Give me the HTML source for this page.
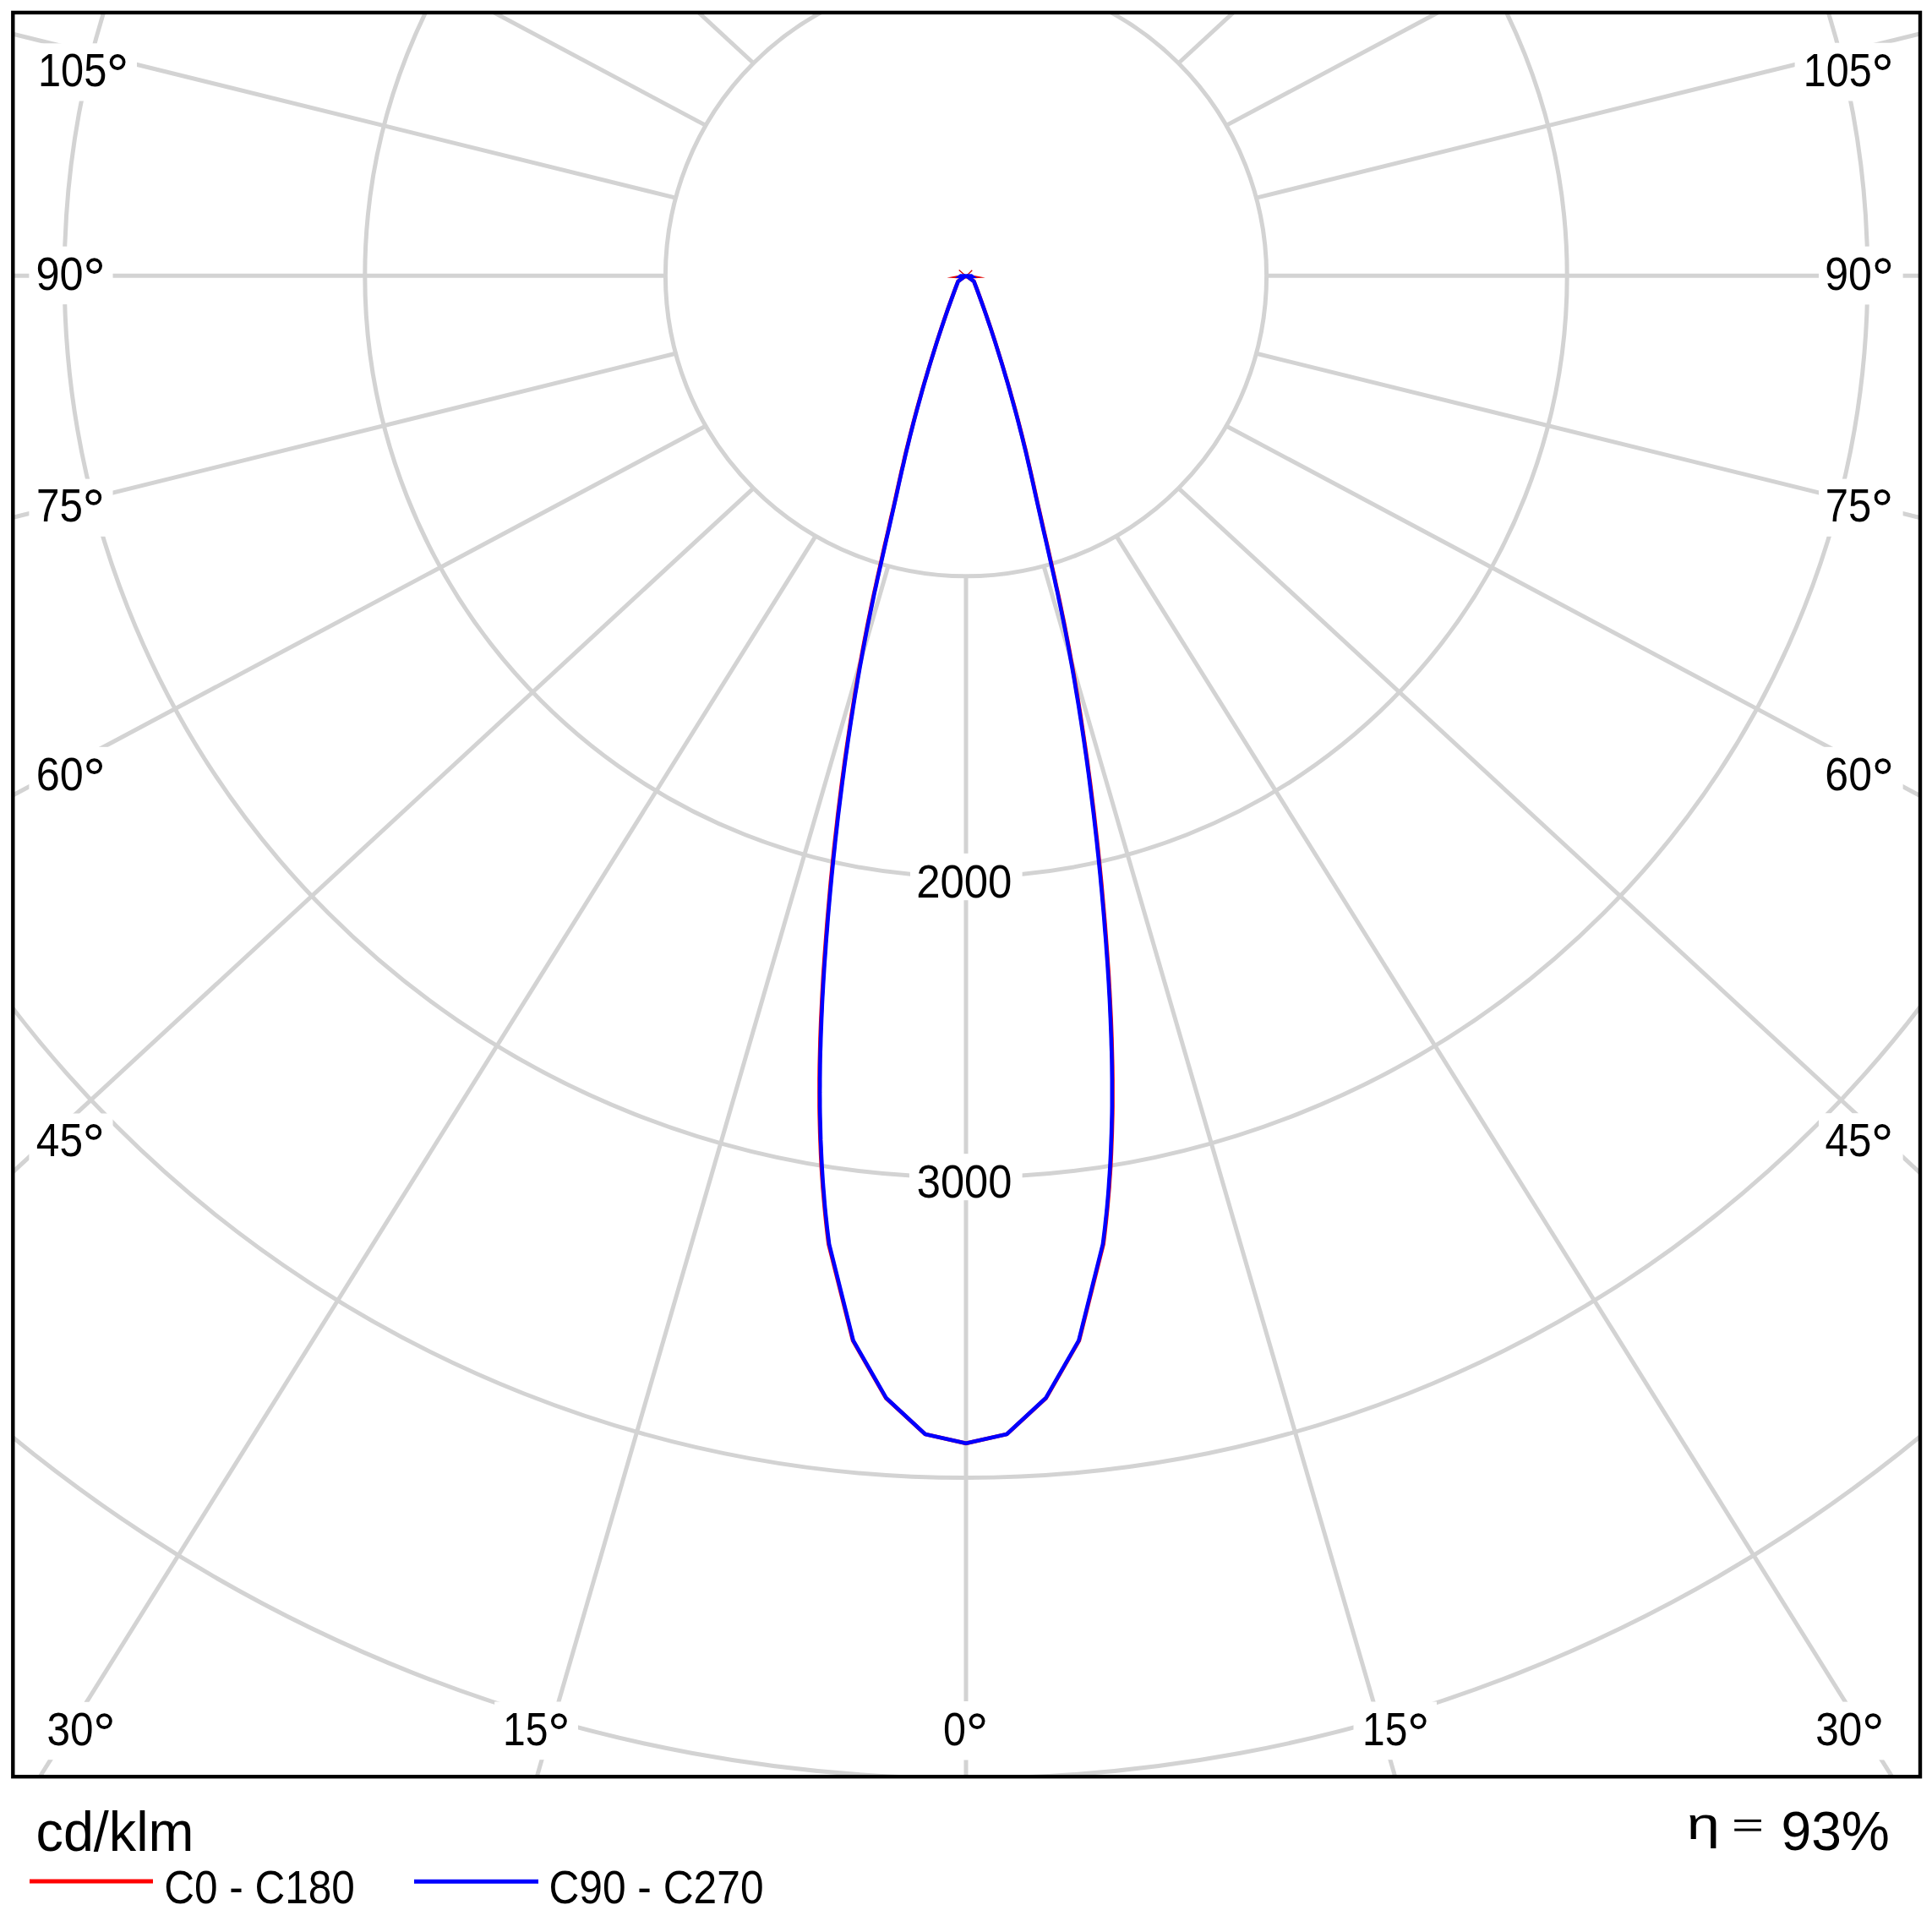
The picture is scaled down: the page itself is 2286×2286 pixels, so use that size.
<!DOCTYPE html>
<html><head><meta charset="utf-8"><style>
html,body{margin:0;padding:0;background:#fff;width:2286px;height:2286px;overflow:hidden}
svg{display:block}
text{font-family:"Liberation Sans",sans-serif}
</style></head><body>
<svg width="2286" height="2286" viewBox="0 0 2286 2286">
<rect x="0" y="0" width="2286" height="2286" fill="#fff"/>
<defs><clipPath id="bx"><rect x="15" y="15" width="2257" height="2087"/></clipPath></defs>
<g clip-path="url(#bx)" fill="none" stroke="#d3d3d3" stroke-width="5.0">
<circle cx="1143.0" cy="326.2" r="355.60"/>
<circle cx="1143.0" cy="326.2" r="711.20"/>
<circle cx="1143.0" cy="326.2" r="1066.80"/>
<circle cx="1143.0" cy="326.2" r="1422.40"/>
<circle cx="1143.0" cy="326.2" r="1778.00"/>
<line x1="1143.00" y1="681.80" x2="1143.00" y2="4681.80"/>
<line x1="1050.96" y1="669.68" x2="-63.80" y2="4511.21"/>
<line x1="1235.04" y1="669.68" x2="2349.80" y2="4511.21"/>
<line x1="965.20" y1="634.16" x2="-1155.46" y2="4025.74"/>
<line x1="1320.80" y1="634.16" x2="3441.46" y2="4025.74"/>
<line x1="891.55" y1="577.65" x2="-2047.24" y2="3291.22"/>
<line x1="1394.45" y1="577.65" x2="4333.24" y2="3291.22"/>
<line x1="835.04" y1="504.00" x2="-2694.71" y2="2385.72"/>
<line x1="1450.96" y1="504.00" x2="4980.71" y2="2385.72"/>
<line x1="799.52" y1="418.24" x2="-3083.40" y2="1378.92"/>
<line x1="1486.48" y1="418.24" x2="5369.40" y2="1378.92"/>
<line x1="787.40" y1="326.20" x2="-3212.60" y2="326.20"/>
<line x1="1498.60" y1="326.20" x2="5498.60" y2="326.20"/>
<line x1="799.52" y1="234.16" x2="-3083.40" y2="-726.52"/>
<line x1="1486.48" y1="234.16" x2="5369.40" y2="-726.52"/>
<line x1="835.04" y1="148.40" x2="-2694.71" y2="-1733.32"/>
<line x1="1450.96" y1="148.40" x2="4980.71" y2="-1733.32"/>
<line x1="891.55" y1="74.75" x2="-2047.24" y2="-2638.82"/>
<line x1="1394.45" y1="74.75" x2="4333.24" y2="-2638.82"/>
<line x1="965.20" y1="18.24" x2="-1155.46" y2="-3373.34"/>
<line x1="1320.80" y1="18.24" x2="3441.46" y2="-3373.34"/>
<line x1="1050.96" y1="-17.28" x2="-63.80" y2="-3858.81"/>
<line x1="1235.04" y1="-17.28" x2="2349.80" y2="-3858.81"/>
<line x1="1143.00" y1="-29.40" x2="1143.00" y2="-4029.40"/>
</g>
<rect x="34.4" y="51.3" width="127.60" height="68.20" fill="#fff"/>
<rect x="34.4" y="291.6" width="99.10" height="68.50" fill="#fff"/>
<rect x="34.4" y="566.6" width="99.10" height="68.20" fill="#fff"/>
<rect x="34.4" y="883.8" width="99.10" height="68.50" fill="#fff"/>
<rect x="34.4" y="1317.5" width="99.10" height="68.50" fill="#fff"/>
<rect x="2123.6" y="50.7" width="128.00" height="68.80" fill="#fff"/>
<rect x="2152" y="291.6" width="99.60" height="68.80" fill="#fff"/>
<rect x="2152" y="566.6" width="99.60" height="68.20" fill="#fff"/>
<rect x="2152" y="883.8" width="99.60" height="68.50" fill="#fff"/>
<rect x="2152" y="1317.2" width="99.60" height="68.80" fill="#fff"/>
<rect x="45.5" y="2013.8" width="99.50" height="68.40" fill="#fff"/>
<rect x="585.2" y="2013.5" width="98.80" height="68.70" fill="#fff"/>
<rect x="1093" y="2013" width="99.00" height="69.50" fill="#fff"/>
<rect x="1601.5" y="2013.5" width="98.50" height="68.70" fill="#fff"/>
<rect x="2139" y="2013.6" width="99.50" height="68.80" fill="#fff"/>
<rect x="1077" y="1009.8" width="132.60" height="55.40" fill="#fff"/>
<rect x="1075.9" y="1365.2" width="133.70" height="55.00" fill="#fff"/>
<path d="M1143.0,326.0 L1133.6,332.9 L1130.6,340.9 L1127.6,348.9 L1124.7,356.9 L1121.8,364.9 L1119.0,372.9 L1116.3,380.9 L1113.6,388.9 L1111.0,396.9 L1108.4,404.9 L1105.9,412.9 L1103.4,420.9 L1100.9,428.9 L1098.5,436.9 L1096.1,444.9 L1093.7,452.9 L1091.4,460.9 L1089.2,468.9 L1086.9,476.9 L1084.7,484.9 L1082.6,492.9 L1080.5,500.9 L1078.4,508.9 L1076.4,516.9 L1074.4,524.9 L1072.4,532.9 L1070.5,540.9 L1068.7,548.9 L1066.8,556.9 L1065.0,564.9 L1063.2,572.9 L1061.4,580.9 L1059.7,588.9 L1057.9,596.9 L1056.1,604.9 L1054.2,612.9 L1052.4,620.9 L1050.6,628.9 L1048.8,636.9 L1046.9,644.9 L1045.1,652.9 L1043.3,660.9 L1041.5,668.9 L1039.7,676.9 L1037.9,684.9 L1036.2,692.9 L1034.4,700.9 L1032.7,708.9 L1031.0,716.9 L1029.4,724.9 L1027.7,732.9 L1026.1,740.9 L1024.6,748.9 L1023.0,756.9 L1021.5,764.9 L1020.0,772.9 L1018.6,780.9 L1017.1,788.9 L1015.7,796.9 L1014.3,804.9 L1013.0,812.9 L1011.6,820.9 L1010.3,828.9 L1009.0,836.9 L1007.7,844.9 L1006.5,852.9 L1005.3,860.9 L1004.1,868.9 L1002.9,876.9 L1001.7,884.9 L1000.6,892.9 L999.4,900.9 L998.4,908.9 L997.3,916.9 L996.2,924.9 L995.2,932.9 L994.2,940.9 L993.2,948.9 L992.2,956.9 L991.2,964.9 L990.3,972.9 L989.4,980.9 L988.5,988.9 L987.6,996.9 L986.7,1004.9 L985.9,1012.9 L985.1,1020.9 L984.3,1028.9 L983.5,1036.9 L982.7,1044.9 L982.0,1052.9 L981.3,1060.9 L980.6,1068.9 L979.9,1076.9 L979.2,1084.9 L978.5,1092.9 L977.9,1100.9 L977.3,1108.9 L976.7,1116.9 L976.1,1124.9 L975.5,1132.9 L975.0,1140.9 L974.4,1148.9 L973.9,1156.9 L973.5,1164.9 L973.0,1172.9 L972.6,1180.9 L972.2,1188.9 L971.8,1196.9 L971.4,1204.9 L971.1,1212.9 L970.8,1220.9 L970.5,1228.9 L970.3,1236.9 L970.1,1244.9 L969.9,1252.9 L969.7,1260.9 L969.6,1268.9 L969.5,1276.9 L969.5,1284.9 L969.5,1292.9 L969.5,1300.9 L969.5,1308.9 L969.6,1316.9 L969.8,1324.9 L970.0,1332.9 L970.2,1340.9 L970.5,1348.9 L970.8,1356.9 L971.1,1364.9 L971.5,1372.9 L971.9,1380.9 L972.4,1388.9 L973.0,1396.9 L973.5,1404.9 L974.2,1412.9 L974.9,1420.9 L975.6,1428.9 L976.4,1436.9 L977.2,1444.9 L978.1,1452.9 L979.0,1460.9 L980.0,1468.9 L980.4,1472.0 L1009.1,1586.1 L1048.3,1654.3 L1094.6,1697.0 L1143.0,1707.8 L1191.4,1697.0 L1237.7,1654.3 L1276.9,1586.1 L1305.6,1472.0 L1306.0,1468.9 L1307.0,1460.9 L1307.9,1452.9 L1308.8,1444.9 L1309.6,1436.9 L1310.4,1428.9 L1311.1,1420.9 L1311.8,1412.9 L1312.5,1404.9 L1313.0,1396.9 L1313.6,1388.9 L1314.1,1380.9 L1314.5,1372.9 L1314.9,1364.9 L1315.2,1356.9 L1315.5,1348.9 L1315.8,1340.9 L1316.0,1332.9 L1316.2,1324.9 L1316.4,1316.9 L1316.5,1308.9 L1316.5,1300.9 L1316.5,1292.9 L1316.5,1284.9 L1316.5,1276.9 L1316.4,1268.9 L1316.3,1260.9 L1316.1,1252.9 L1315.9,1244.9 L1315.7,1236.9 L1315.5,1228.9 L1315.2,1220.9 L1314.9,1212.9 L1314.6,1204.9 L1314.2,1196.9 L1313.8,1188.9 L1313.4,1180.9 L1313.0,1172.9 L1312.5,1164.9 L1312.1,1156.9 L1311.6,1148.9 L1311.0,1140.9 L1310.5,1132.9 L1309.9,1124.9 L1309.3,1116.9 L1308.7,1108.9 L1308.1,1100.9 L1307.5,1092.9 L1306.8,1084.9 L1306.1,1076.9 L1305.4,1068.9 L1304.7,1060.9 L1304.0,1052.9 L1303.3,1044.9 L1302.5,1036.9 L1301.7,1028.9 L1300.9,1020.9 L1300.1,1012.9 L1299.3,1004.9 L1298.4,996.9 L1297.5,988.9 L1296.6,980.9 L1295.7,972.9 L1294.8,964.9 L1293.8,956.9 L1292.8,948.9 L1291.8,940.9 L1290.8,932.9 L1289.8,924.9 L1288.7,916.9 L1287.6,908.9 L1286.6,900.9 L1285.4,892.9 L1284.3,884.9 L1283.1,876.9 L1281.9,868.9 L1280.7,860.9 L1279.5,852.9 L1278.3,844.9 L1277.0,836.9 L1275.7,828.9 L1274.4,820.9 L1273.0,812.9 L1271.7,804.9 L1270.3,796.9 L1268.9,788.9 L1267.4,780.9 L1266.0,772.9 L1264.5,764.9 L1263.0,756.9 L1261.4,748.9 L1259.9,740.9 L1258.3,732.9 L1256.6,724.9 L1255.0,716.9 L1253.3,708.9 L1251.6,700.9 L1249.8,692.9 L1248.1,684.9 L1246.3,676.9 L1244.5,668.9 L1242.7,660.9 L1240.9,652.9 L1239.1,644.9 L1237.2,636.9 L1235.4,628.9 L1233.6,620.9 L1231.8,612.9 L1229.9,604.9 L1228.1,596.9 L1226.3,588.9 L1224.6,580.9 L1222.8,572.9 L1221.0,564.9 L1219.2,556.9 L1217.3,548.9 L1215.5,540.9 L1213.6,532.9 L1211.6,524.9 L1209.6,516.9 L1207.6,508.9 L1205.5,500.9 L1203.4,492.9 L1201.3,484.9 L1199.1,476.9 L1196.8,468.9 L1194.6,460.9 L1192.3,452.9 L1189.9,444.9 L1187.5,436.9 L1185.1,428.9 L1182.6,420.9 L1180.1,412.9 L1177.6,404.9 L1175.0,396.9 L1172.4,388.9 L1169.7,380.9 L1167.0,372.9 L1164.2,364.9 L1161.3,356.9 L1158.4,348.9 L1155.4,340.9 L1152.4,332.9 L1143.0,326.0" fill="none" stroke="#ff0000" stroke-width="4.6" stroke-linejoin="miter"/>
<polygon points="1120.5,328.4 1136,325.6 1150,325.6 1165.8,328.4 1150,329.4 1136,329.4" fill="#e00000"/>
<line x1="1134.7" y1="319.4" x2="1141" y2="325" stroke="#d00000" stroke-width="1.3"/>
<line x1="1150.3" y1="319.7" x2="1145" y2="325" stroke="#d00000" stroke-width="1.3"/>
<path d="M1143.0,326.0 L1133.7,332.9 L1130.6,340.9 L1127.7,348.9 L1124.8,356.9 L1121.9,364.9 L1119.1,372.9 L1116.4,380.9 L1113.7,388.9 L1111.1,396.9 L1108.5,404.9 L1106.0,412.9 L1103.5,420.9 L1101.0,428.9 L1098.6,436.9 L1096.3,444.9 L1093.9,452.9 L1091.6,460.9 L1089.4,468.9 L1087.2,476.9 L1085.0,484.9 L1082.8,492.9 L1080.7,500.9 L1078.7,508.9 L1076.6,516.9 L1074.7,524.9 L1072.7,532.9 L1070.8,540.9 L1069.0,548.9 L1067.1,556.9 L1065.3,564.9 L1063.5,572.9 L1061.8,580.9 L1060.0,588.9 L1058.2,596.9 L1056.4,604.9 L1054.6,612.9 L1052.8,620.9 L1051.0,628.9 L1049.1,636.9 L1047.3,644.9 L1045.5,652.9 L1043.7,660.9 L1041.9,668.9 L1040.1,676.9 L1038.3,684.9 L1036.6,692.9 L1034.8,700.9 L1033.2,708.9 L1031.5,716.9 L1029.8,724.9 L1028.2,732.9 L1026.6,740.9 L1025.0,748.9 L1023.5,756.9 L1022.0,764.9 L1020.5,772.9 L1019.1,780.9 L1017.6,788.9 L1016.2,796.9 L1014.8,804.9 L1013.5,812.9 L1012.1,820.9 L1010.8,828.9 L1009.5,836.9 L1008.3,844.9 L1007.0,852.9 L1005.8,860.9 L1004.6,868.9 L1003.4,876.9 L1002.3,884.9 L1001.1,892.9 L1000.0,900.9 L998.9,908.9 L997.9,916.9 L996.8,924.9 L995.8,932.9 L994.8,940.9 L993.8,948.9 L992.8,956.9 L991.8,964.9 L990.9,972.9 L990.0,980.9 L989.1,988.9 L988.2,996.9 L987.4,1004.9 L986.5,1012.9 L985.7,1020.9 L984.9,1028.9 L984.1,1036.9 L983.4,1044.9 L982.6,1052.9 L981.9,1060.9 L981.2,1068.9 L980.5,1076.9 L979.8,1084.9 L979.2,1092.9 L978.6,1100.9 L977.9,1108.9 L977.3,1116.9 L976.8,1124.9 L976.2,1132.9 L975.6,1140.9 L975.1,1148.9 L974.6,1156.9 L974.1,1164.9 L973.7,1172.9 L973.2,1180.9 L972.8,1188.9 L972.5,1196.9 L972.1,1204.9 L971.8,1212.9 L971.5,1220.9 L971.2,1228.9 L971.0,1236.9 L970.7,1244.9 L970.5,1252.9 L970.4,1260.9 L970.3,1268.9 L970.2,1276.9 L970.2,1284.9 L970.1,1292.9 L970.2,1300.9 L970.2,1308.9 L970.3,1316.9 L970.5,1324.9 L970.7,1332.9 L970.9,1340.9 L971.1,1348.9 L971.5,1356.9 L971.8,1364.9 L972.2,1372.9 L972.6,1380.9 L973.1,1388.9 L973.6,1396.9 L974.2,1404.9 L974.9,1412.9 L975.5,1420.9 L976.2,1428.9 L977.0,1436.9 L977.9,1444.9 L978.7,1452.9 L979.7,1460.9 L980.7,1468.9 L981.1,1472.0 L1009.6,1586.1 L1048.7,1654.3 L1094.8,1697.0 L1143.0,1707.8 L1191.2,1697.0 L1237.3,1654.3 L1276.4,1586.1 L1304.9,1472.0 L1305.3,1468.9 L1306.3,1460.9 L1307.3,1452.9 L1308.1,1444.9 L1309.0,1436.9 L1309.8,1428.9 L1310.5,1420.9 L1311.2,1412.9 L1311.8,1404.9 L1312.3,1396.9 L1312.9,1388.9 L1313.4,1380.9 L1313.8,1372.9 L1314.2,1364.9 L1314.5,1356.9 L1314.8,1348.9 L1315.1,1340.9 L1315.3,1332.9 L1315.5,1324.9 L1315.7,1316.9 L1315.8,1308.9 L1315.8,1300.9 L1315.8,1292.9 L1315.8,1284.9 L1315.8,1276.9 L1315.7,1268.9 L1315.6,1260.9 L1315.5,1252.9 L1315.3,1244.9 L1315.0,1236.9 L1314.8,1228.9 L1314.5,1220.9 L1314.2,1212.9 L1313.9,1204.9 L1313.5,1196.9 L1313.2,1188.9 L1312.8,1180.9 L1312.3,1172.9 L1311.9,1164.9 L1311.4,1156.9 L1310.9,1148.9 L1310.4,1140.9 L1309.8,1132.9 L1309.2,1124.9 L1308.7,1116.9 L1308.1,1108.9 L1307.4,1100.9 L1306.8,1092.9 L1306.2,1084.9 L1305.5,1076.9 L1304.8,1068.9 L1304.1,1060.9 L1303.4,1052.9 L1302.6,1044.9 L1301.9,1036.9 L1301.1,1028.9 L1300.3,1020.9 L1299.5,1012.9 L1298.6,1004.9 L1297.8,996.9 L1296.9,988.9 L1296.0,980.9 L1295.1,972.9 L1294.2,964.9 L1293.2,956.9 L1292.2,948.9 L1291.2,940.9 L1290.2,932.9 L1289.2,924.9 L1288.2,916.9 L1287.1,908.9 L1286.0,900.9 L1284.9,892.9 L1283.7,884.9 L1282.6,876.9 L1281.4,868.9 L1280.2,860.9 L1279.0,852.9 L1277.7,844.9 L1276.5,836.9 L1275.2,828.9 L1273.8,820.9 L1272.5,812.9 L1271.2,804.9 L1269.8,796.9 L1268.4,788.9 L1266.9,780.9 L1265.5,772.9 L1264.0,764.9 L1262.5,756.9 L1261.0,748.9 L1259.4,740.9 L1257.8,732.9 L1256.2,724.9 L1254.5,716.9 L1252.8,708.9 L1251.2,700.9 L1249.4,692.9 L1247.7,684.9 L1245.9,676.9 L1244.1,668.9 L1242.3,660.9 L1240.5,652.9 L1238.7,644.9 L1236.9,636.9 L1235.0,628.9 L1233.2,620.9 L1231.4,612.9 L1229.6,604.9 L1227.8,596.9 L1226.0,588.9 L1224.2,580.9 L1222.5,572.9 L1220.7,564.9 L1218.9,556.9 L1217.0,548.9 L1215.2,540.9 L1213.3,532.9 L1211.3,524.9 L1209.4,516.9 L1207.3,508.9 L1205.3,500.9 L1203.2,492.9 L1201.0,484.9 L1198.8,476.9 L1196.6,468.9 L1194.4,460.9 L1192.1,452.9 L1189.7,444.9 L1187.4,436.9 L1185.0,428.9 L1182.5,420.9 L1180.0,412.9 L1177.5,404.9 L1174.9,396.9 L1172.3,388.9 L1169.6,380.9 L1166.9,372.9 L1164.1,364.9 L1161.2,356.9 L1158.3,348.9 L1155.4,340.9 L1152.3,332.9 L1143.0,326.0" fill="none" stroke="#0000ff" stroke-width="4.6" stroke-linejoin="round"/>
<polygon points="1136,324.2 1150,324.2 1156,329 1130,329" fill="#0000ff"/>
<rect x="15.3" y="14.9" width="2256.7" height="2087.3" fill="none" stroke="#000" stroke-width="4.4"/>
<circle cx="139.10" cy="73.50" r="7.55" fill="none" stroke="#000" stroke-width="3.7"/>
<circle cx="111.60" cy="314.60" r="7.55" fill="none" stroke="#000" stroke-width="3.7"/>
<circle cx="110.80" cy="588.40" r="7.55" fill="none" stroke="#000" stroke-width="3.7"/>
<circle cx="111.60" cy="906.60" r="7.55" fill="none" stroke="#000" stroke-width="3.7"/>
<circle cx="110.80" cy="1339.40" r="7.55" fill="none" stroke="#000" stroke-width="3.7"/>
<circle cx="2227.50" cy="73.50" r="7.55" fill="none" stroke="#000" stroke-width="3.7"/>
<circle cx="2227.90" cy="314.60" r="7.55" fill="none" stroke="#000" stroke-width="3.7"/>
<circle cx="2227.10" cy="588.40" r="7.55" fill="none" stroke="#000" stroke-width="3.7"/>
<circle cx="2227.90" cy="906.60" r="7.55" fill="none" stroke="#000" stroke-width="3.7"/>
<circle cx="2227.10" cy="1339.40" r="7.55" fill="none" stroke="#000" stroke-width="3.7"/>
<circle cx="123.40" cy="2036.60" r="7.55" fill="none" stroke="#000" stroke-width="3.7"/>
<circle cx="661.40" cy="2036.60" r="7.55" fill="none" stroke="#000" stroke-width="3.7"/>
<circle cx="1156.10" cy="2036.60" r="7.55" fill="none" stroke="#000" stroke-width="3.7"/>
<circle cx="1678.20" cy="2036.60" r="7.55" fill="none" stroke="#000" stroke-width="3.7"/>
<circle cx="2216.30" cy="2036.60" r="7.55" fill="none" stroke="#000" stroke-width="3.7"/>
<rect x="2052.2" y="2152.9" width="31.7" height="3.0" fill="#000"/>
<rect x="2052.2" y="2163.6" width="31.7" height="3.0" fill="#000"/>
<line x1="35" y1="2226" x2="181" y2="2226" stroke="#ff0000" stroke-width="5"/>
<line x1="490" y1="2226.3" x2="637" y2="2226.3" stroke="#0000ff" stroke-width="5"/>
<text x="44.99" y="101.90" font-size="55" textLength="81.25" lengthAdjust="spacingAndGlyphs" fill="#000">105</text>
<text x="42.53" y="343.00" font-size="55" textLength="56.14" lengthAdjust="spacingAndGlyphs" fill="#000">90</text>
<text x="43.07" y="616.80" font-size="55" textLength="54.90" lengthAdjust="spacingAndGlyphs" fill="#000">75</text>
<text x="42.64" y="935.00" font-size="55" textLength="56.03" lengthAdjust="spacingAndGlyphs" fill="#000">60</text>
<text x="42.86" y="1367.80" font-size="55" textLength="55.12" lengthAdjust="spacingAndGlyphs" fill="#000">45</text>
<text x="2133.81" y="101.90" font-size="55" textLength="80.82" lengthAdjust="spacingAndGlyphs" fill="#000">105</text>
<text x="2159.25" y="343.00" font-size="55" textLength="55.70" lengthAdjust="spacingAndGlyphs" fill="#000">90</text>
<text x="2159.79" y="616.80" font-size="55" textLength="54.47" lengthAdjust="spacingAndGlyphs" fill="#000">75</text>
<text x="2159.36" y="935.00" font-size="55" textLength="55.59" lengthAdjust="spacingAndGlyphs" fill="#000">60</text>
<text x="2159.57" y="1367.80" font-size="55" textLength="54.69" lengthAdjust="spacingAndGlyphs" fill="#000">45</text>
<text x="55.42" y="2065.00" font-size="55" textLength="55.02" lengthAdjust="spacingAndGlyphs" fill="#000">30</text>
<text x="595.04" y="2065.00" font-size="55" textLength="53.48" lengthAdjust="spacingAndGlyphs" fill="#000">15</text>
<text x="1116.10" y="2065.00" font-size="55" textLength="26.99" lengthAdjust="spacingAndGlyphs" fill="#000">0</text>
<text x="1612.05" y="2065.00" font-size="55" textLength="53.26" lengthAdjust="spacingAndGlyphs" fill="#000">15</text>
<text x="2148.21" y="2065.00" font-size="55" textLength="55.12" lengthAdjust="spacingAndGlyphs" fill="#000">30</text>
<text x="1084.14" y="1062.00" font-size="55" textLength="113.25" lengthAdjust="spacingAndGlyphs" fill="#000">2000</text>
<text x="1084.77" y="1417.00" font-size="55" textLength="112.61" lengthAdjust="spacingAndGlyphs" fill="#000">3000</text>
<text x="42.55" y="2189.60" font-size="66" textLength="186.91" lengthAdjust="spacingAndGlyphs" fill="#000">cd/klm</text>
<text x="194.18" y="2251.70" font-size="55" textLength="225.75" lengthAdjust="spacingAndGlyphs" fill="#000">C0 - C180</text>
<text x="649.38" y="2251.70" font-size="55" textLength="254.17" lengthAdjust="spacingAndGlyphs" fill="#000">C90 - C270</text>
<text x="1995.75" y="2176.00" font-size="54" textLength="39.23" lengthAdjust="spacingAndGlyphs" fill="#000">η</text>
<text x="2107.49" y="2188.60" font-size="65.5" textLength="128.39" lengthAdjust="spacingAndGlyphs" fill="#000">93%</text>
</svg>
</body></html>
